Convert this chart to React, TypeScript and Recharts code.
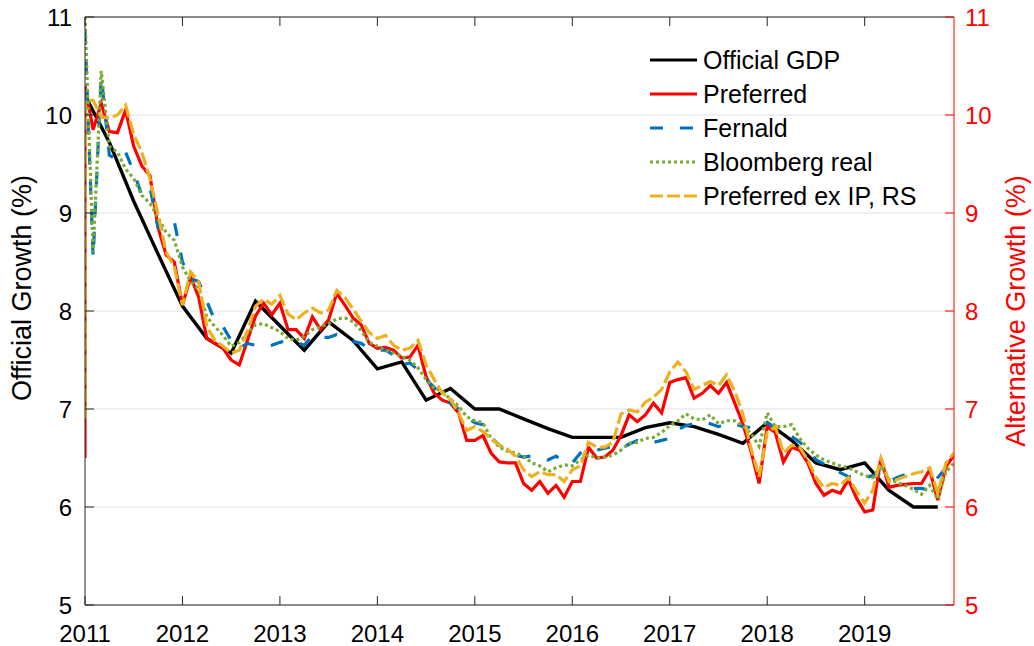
import React from 'react'
import { LineChart, Line, XAxis, YAxis, CartesianGrid, Legend, ReferenceLine } from 'recharts'

const FONT = '"Liberation Sans", Arial, Helvetica, sans-serif'
const AXIS_DARK = '#262626'
const AXIS_RED = '#ff0000'
const PLOT_TOP = 17

const yearTicks = [2011, 2012, 2013, 2014, 2015, 2016, 2017, 2018, 2019]
const growthTicks = [5, 6, 7, 8, 9, 10, 11]

// monthly series start Jan 2011, one value per month (12 per row)
const firstMonth = 2011

// official GDP, quarterly
const officialTimes = [
  2011.0, 2011.25, 2011.5, 2011.75, 2012.0, 2012.25, 2012.5, 2012.75,
  2013.0, 2013.25, 2013.5, 2013.75, 2014.0, 2014.25, 2014.5, 2014.75,
  2015.0, 2015.25, 2015.5, 2015.75, 2016.0, 2016.25, 2016.5, 2016.75,
  2017.0, 2017.25, 2017.5, 2017.75, 2018.0, 2018.25, 2018.5, 2018.75,
  2019.0, 2019.25, 2019.5, 2019.75,
]
const officialGdp = [
  10.2, 9.72, 9.12, 8.58, 8.05, 7.72, 7.57, 8.1,
  7.85, 7.6, 7.89, 7.7, 7.41, 7.48, 7.09, 7.21,
  7.0, 7.0, 6.9, 6.8, 6.71, 6.71, 6.71, 6.81,
  6.86, 6.82, 6.74, 6.65, 6.86, 6.68, 6.45, 6.38,
  6.45, 6.17, 6.0, 6.0,
]

const preferredStart = 6.5
const preferred = [
  10.3, 9.85, 10.12, 9.83, 9.82, 10.05, 9.68, 9.48, 9.38, 8.85, 8.57, 8.5,
  8.06, 8.35, 8.14, 7.72, 7.67, 7.62, 7.5, 7.45, 7.7, 7.95, 8.08, 7.96,
  8.08, 7.81, 7.81, 7.72, 7.94, 7.81, 7.91, 8.18, 8.06, 7.93, 7.86, 7.67,
  7.62, 7.63, 7.6, 7.52, 7.53, 7.65, 7.33, 7.16, 7.09, 7.06, 6.96, 6.68,
  6.68, 6.73, 6.55, 6.46, 6.45, 6.45, 6.24, 6.17, 6.26, 6.14, 6.22, 6.1,
  6.26, 6.26, 6.61, 6.5, 6.51, 6.58, 6.73, 6.94, 6.87, 6.94, 7.06, 6.96,
  7.27, 7.3, 7.32, 7.11, 7.16, 7.24, 7.16, 7.27, 7.06, 6.85, 6.57, 6.24,
  6.82, 6.76, 6.46, 6.61, 6.58, 6.45, 6.24, 6.12, 6.17, 6.14, 6.28, 6.09,
  5.95, 5.97, 6.5, 6.2, 6.22, 6.23, 6.24, 6.24, 6.38, 6.07, 6.41, 6.53,
]

const fernald = [
  10.85, 8.54, 10.4, 9.59, 9.54, 9.62, 9.42, 9.18, 9.26, 8.85, 8.82, 8.91,
  8.5, 8.33, 8.3, 8.1, 7.9, 7.84, 7.7, 7.62, 7.67, 7.65, 7.63, 7.65,
  7.68, 7.7, 7.68, 7.65, 7.75, 7.73, 7.73, 7.76, 7.72, 7.69, 7.67, 7.62,
  7.6, 7.6, 7.55, 7.45, 7.47, 7.4, 7.3, 7.22, 7.12, 7.06, 7.0, 6.92,
  6.86, 6.84, 6.71, 6.63, 6.58, 6.53, 6.51, 6.52, 6.5, 6.48, 6.52, 6.45,
  6.45, 6.55, 6.6, 6.58, 6.6, 6.62, 6.6, 6.64, 6.68, 6.66, 6.66, 6.68,
  6.7, 6.79, 6.83, 6.85, 6.87, 6.85, 6.82, 6.85, 6.85, 6.82, 6.81, 6.81,
  6.86, 6.8, 6.75, 6.72, 6.66, 6.6, 6.48, 6.44, 6.4, 6.35, 6.31, 6.3,
  6.3, 6.32, 6.35, 6.26, 6.3, 6.33, 6.19, 6.19, 6.17, 6.3, 6.4, 6.45,
]

const bloombergReal = [
  11.0, 8.6, 10.45, 9.68, 9.62, 9.45, 9.35, 9.18, 9.1, 8.95, 8.8, 8.72,
  8.45, 8.3, 8.22, 7.94, 7.84, 7.75, 7.64, 7.68, 7.77, 7.86, 7.87, 7.83,
  7.79, 7.72, 7.7, 7.74, 7.81, 7.84, 7.87, 7.92, 7.93, 7.89, 7.8, 7.68,
  7.64, 7.6, 7.57, 7.54, 7.5, 7.42, 7.3, 7.21, 7.18, 7.1, 7.03, 6.92,
  6.88, 6.86, 6.7, 6.61, 6.57, 6.55, 6.52, 6.45, 6.42, 6.36, 6.4, 6.43,
  6.42, 6.48, 6.53, 6.5, 6.51, 6.53, 6.58, 6.65, 6.66, 6.7, 6.71, 6.76,
  6.83, 6.88, 6.95, 6.9, 6.89, 6.94, 6.85, 6.88, 6.88, 6.83, 6.75, 6.62,
  6.96, 6.82, 6.82, 6.84, 6.7, 6.6, 6.53, 6.48, 6.45, 6.42, 6.4, 6.36,
  6.32, 6.3, 6.42, 6.28, 6.25, 6.22, 6.18, 6.13, 6.22, 6.08, 6.36, 6.45,
]

const exIpStart = 6.9
const preferredExIpRs = [
  10.15, 10.15, 9.98, 9.97, 10.0, 10.1, 9.8, 9.62, 9.35, 8.98, 8.6, 8.45,
  8.06, 8.4, 8.3, 7.84, 7.7, 7.64, 7.57, 7.6, 7.8, 8.05, 8.12, 8.07,
  8.16, 7.97, 7.91, 7.98, 8.03, 7.98, 8.01, 8.21, 8.14, 8.02, 7.9, 7.78,
  7.72, 7.75, 7.65, 7.6, 7.62, 7.7, 7.45, 7.3, 7.16, 7.1, 6.96, 6.78,
  6.82, 6.77, 6.7, 6.63, 6.59, 6.52, 6.38, 6.31, 6.36, 6.33, 6.33, 6.26,
  6.38, 6.42, 6.66, 6.61, 6.61, 6.66, 6.95, 6.99, 6.97, 7.07, 7.12, 7.2,
  7.38, 7.48, 7.38, 7.2, 7.24, 7.28, 7.24, 7.35, 7.18, 6.95, 6.6, 6.31,
  6.76, 6.82, 6.55, 6.63, 6.61, 6.48, 6.3, 6.2, 6.24, 6.22, 6.3, 6.16,
  6.04, 6.17, 6.5, 6.26, 6.28, 6.31, 6.34, 6.36, 6.4, 6.14, 6.45, 6.55,
]

const lastMonth = firstMonth + (preferred.length - 1) / 12

function monthly(values: number[], start?: number) {
  const pts = values.map((v, i) => ({ t: firstMonth + i / 12, v }))
  return start === undefined ? pts : [{ t: firstMonth, v: start }, ...pts]
}

const officialData = officialTimes.map((t, i) => ({ t, v: officialGdp[i] }))

const series = [
  { name: 'Official GDP', axis: 'left', data: officialData, color: '#000000', dash: undefined, width: 3.4 },
  { name: 'Preferred', axis: 'right', data: monthly(preferred, preferredStart), color: '#ff0000', dash: undefined, width: 3.2 },
  { name: 'Fernald', axis: 'right', data: monthly(fernald), color: '#0072bd', dash: '13 17', width: 3.2 },
  { name: 'Bloomberg real', axis: 'right', data: monthly(bloombergReal), color: '#77ac30', dash: '3 3', width: 3.2 },
  { name: 'Preferred ex IP, RS', axis: 'right', data: monthly(preferredExIpRs, exIpStart), color: '#edb120', dash: '13 4', width: 3.2 },
]

const LeftTick = (props: any) => {
  const { x, y, payload } = props
  const axisX = x + 13
  return (
    <g>
      <line x1={axisX} x2={axisX + 9} y1={y} y2={y} stroke={AXIS_DARK} />
      <text x={x} y={y + 9} textAnchor="end" fontSize={24} fontFamily={FONT} fill="#000">{payload.value}</text>
    </g>
  )
}

const RightTick = (props: any) => {
  const { x, y, payload } = props
  const axisX = x - 11
  return (
    <g>
      <line x1={axisX} x2={axisX - 9} y1={y} y2={y} stroke={AXIS_RED} />
      <text x={x} y={y + 9} textAnchor="start" fontSize={24} fontFamily={FONT} fill={AXIS_RED}>{payload.value}</text>
    </g>
  )
}

const BottomTick = (props: any) => {
  const { x, y, payload } = props
  const axisY = y - 37
  return (
    <g>
      <line x1={x} x2={x} y1={axisY} y2={axisY - 9} stroke={AXIS_DARK} />
      <line x1={x} x2={x} y1={PLOT_TOP} y2={PLOT_TOP + 9} stroke={AXIS_DARK} />
      <text x={x} y={y} textAnchor="middle" fontSize={24} fontFamily={FONT} fill="#000">{payload.value}</text>
    </g>
  )
}

const LegendBox = () => (
  <div style={{ fontFamily: FONT, fontSize: 25, color: '#000', lineHeight: '34px' }}>
    {series.map((s) => (
      <div key={s.name} style={{ display: 'flex', alignItems: 'center', height: 34 }}>
        <svg width={53} height={10} style={{ display: 'block' }}>
          <line x1={2} x2={49} y1={5} y2={5} stroke={s.color} strokeWidth={3} strokeDasharray={s.dash} />
        </svg>
        <span style={{ marginLeft: 2, whiteSpace: 'nowrap' }}>{s.name}</span>
      </div>
    ))}
  </div>
)

export default function App() {
  return (
    <div style={{ position: 'absolute', left: 0, top: 0, width: 1034, height: 646, background: '#fff', fontFamily: FONT }}>
      <LineChart width={1034} height={646} margin={{ top: PLOT_TOP, right: 20, bottom: 11, left: 25 }}>
        <CartesianGrid yAxisId="left" vertical={false} stroke="#dfdfdf" />
        <XAxis
          dataKey="t"
          type="number"
          domain={[firstMonth, lastMonth]}
          allowDataOverflow
          ticks={yearTicks}
          height={30}
          tickSize={0}
          tickMargin={37}
          tickLine={false}
          axisLine={{ stroke: AXIS_DARK }}
          tick={<BottomTick />}
        />
        <YAxis
          yAxisId="left"
          domain={[5, 11]}
          ticks={growthTicks}
          width={60}
          tickSize={0}
          tickMargin={13}
          tickLine={false}
          axisLine={{ stroke: AXIS_DARK }}
          tick={<LeftTick />}
        />
        <YAxis
          yAxisId="right"
          orientation="right"
          domain={[5, 11]}
          ticks={growthTicks}
          width={60}
          tickSize={0}
          tickMargin={11}
          tickLine={false}
          axisLine={{ stroke: AXIS_RED }}
          tick={<RightTick />}
        />
        <ReferenceLine yAxisId="left" y={11} stroke={AXIS_DARK} />
        {series.map((s) => (
          <Line
            key={s.name}
            yAxisId={s.axis}
            data={s.data}
            dataKey="v"
            type="linear"
            stroke={s.color}
            strokeWidth={s.width}
            strokeDasharray={s.dash}
            dot={false}
            activeDot={false}
            isAnimationActive={false}
          />
        ))}
        <Legend
          layout="vertical"
          align="center"
          verticalAlign="middle"
          content={<LegendBox />}
          wrapperStyle={{ left: 648, top: 43, width: 320, height: 'auto' }}
        />
      </LineChart>
      <div
        style={{
          position: 'absolute', left: 22, top: 288, transform: 'translate(-50%, -50%) rotate(-90deg)',
          whiteSpace: 'nowrap', fontSize: 27, color: '#000',
        }}
      >
        Official Growth (%)
      </div>
      <div
        style={{
          position: 'absolute', left: 1016, top: 311, transform: 'translate(-50%, -50%) rotate(-90deg)',
          whiteSpace: 'nowrap', fontSize: 27, color: AXIS_RED,
        }}
      >
        Alternative Growth (%)
      </div>
    </div>
  )
}
